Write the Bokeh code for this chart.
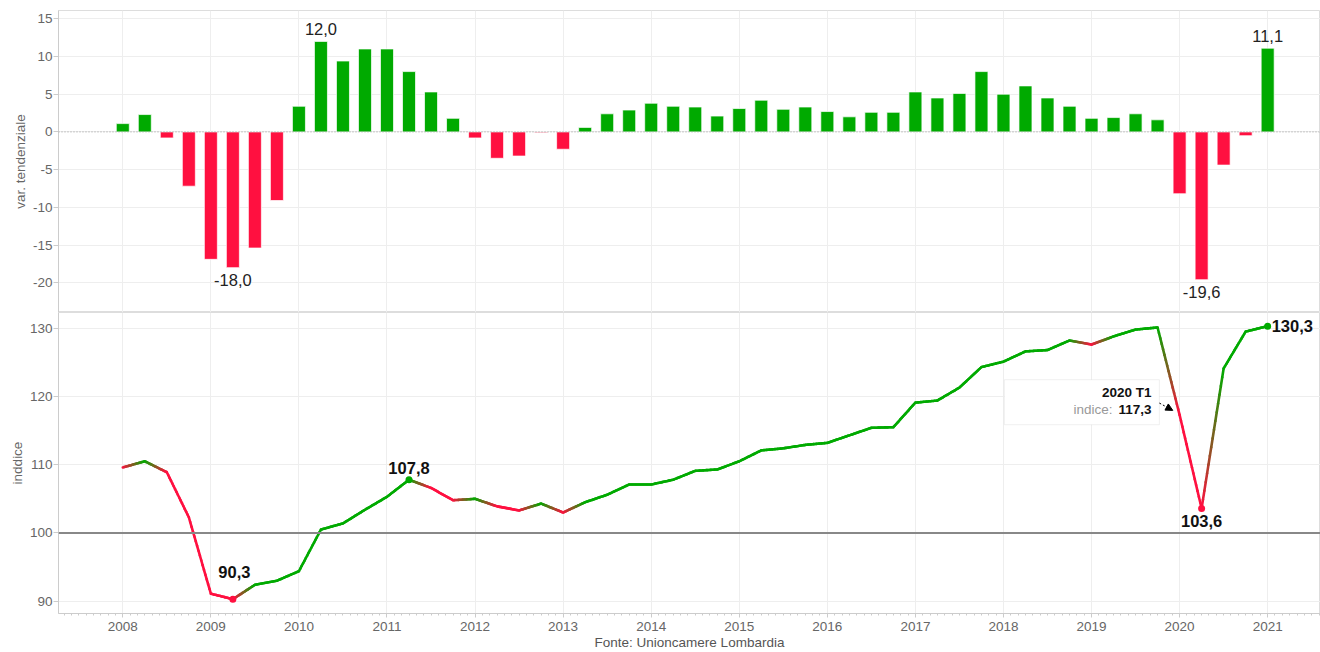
import numpy as np
from bokeh.plotting import figure
from bokeh.layouts import column
from bokeh.models import (ColumnDataSource, FixedTicker, Label, Span, BoxAnnotation,
                          Arrow, NormalHead, Range1d)
from bokeh.embed import file_html
from bokeh.resources import INLINE

# ---------------- data ----------------
years = list(range(2008, 2022))
quarters = [f"{y} T{q}" for y in range(2008, 2021) for q in range(1, 5)] + ["2021 T1"]

var_tend = [1.1, 2.3, -0.8, -7.2,
            -16.9, -18.0, -15.4, -9.1,
            3.4, 12.0, 9.4, 11.0,
            11.0, 8.0, 5.3, 1.8,
            -0.8, -3.5, -3.2, -0.1,
            -2.3, 0.6, 2.4, 2.9,
            3.8, 3.4, 3.3, 2.1,
            3.1, 4.2, 3.0, 3.3,
            2.7, 2.0, 2.6, 2.6,
            5.3, 4.5, 5.1, 8.0,
            5.0, 6.1, 4.5, 3.4,
            1.8, 1.9, 2.4, 1.6,
            -8.2, -19.6, -4.4, -0.5,
            11.1]

indice = [109.6, 110.5, 108.9, 102.3,
          91.1, 90.3, 92.4, 93.0,
          94.4, 100.5, 101.4, 103.4,
          105.3, 107.8, 106.6, 104.8,
          105.0, 103.9, 103.3, 104.3,
          103.0, 104.5, 105.6, 107.1,
          107.1, 107.8, 109.1, 109.3,
          110.5, 112.1, 112.4, 112.9,
          113.2, 114.3, 115.4, 115.5,
          119.1, 119.4, 121.3, 124.3,
          125.1, 126.6, 126.8, 128.2,
          127.6, 128.8, 129.8, 130.1,
          117.3, 103.6, 124.1, 129.5,
          130.3]

bar_label_quarters = ["2009 T2", "2010 T2", "2020 T2", "2021 T1"]
line_label_quarters = ["2009 T2", "2011 T2", "2020 T2", "2021 T1"]
tooltip_quarter = "2020 T1"
source_note = "Fonte: Unioncamere Lombardia"

# ---------------- style / layout ----------------
FONT = "Liberation Sans"
GREEN = (0, 170, 0)
RED = (255, 16, 64)
W = 1320
LEFT = 58
X0, X1 = 2007.27, 2021.60
TOP_H, BOT_H = 312, 340
TOP_Y = (-23.95, 16.1)
BOT_Y = (88.2, 132.3)
FRAME_W = W - LEFT
PX_X = FRAME_W / (X1 - X0)
PX_YB = 301 / (BOT_Y[1] - BOT_Y[0])


def hexc(c):
    return "#%02x%02x%02x" % tuple(int(round(v)) for v in c)


def mix(a, b, t):
    return tuple(a[i] + (b[i] - a[i]) * t for i in range(3))


def fmt(v):
    return f"{v:.1f}".replace(".", ",")


xq = [int(q[:4]) + (int(q[-1]) - 1) / 4 for q in quarters]


def style_y(p, ticks, label):
    ax = p.yaxis[0]
    ax.ticker = FixedTicker(ticks=ticks)
    ax.major_label_overrides = {t: str(t) for t in ticks}
    ax.axis_label = label
    ax.axis_label_text_font = FONT
    ax.axis_label_text_font_size = "13.5px"
    ax.axis_label_text_font_style = "normal"
    ax.axis_label_text_color = "#666666"
    ax.axis_label_standoff = 2
    ax.major_label_text_font = FONT
    ax.major_label_text_font_size = "13.5px"
    ax.major_label_text_color = "#666666"
    ax.major_label_standoff = 1
    ax.axis_line_color = "#cccccc"
    ax.major_tick_line_color = "#cccccc"
    ax.major_tick_out = 5
    ax.major_tick_in = 0
    ax.minor_tick_line_color = None
    p.ygrid.ticker = FixedTicker(ticks=ticks)
    p.ygrid.grid_line_color = "#eeeeee"
    p.xgrid.ticker = FixedTicker(ticks=years)
    p.xgrid.grid_line_color = "#eeeeee"
    p.outline_line_color = "#dddddd"
    p.background_fill_color = "white"
    p.border_fill_color = "white"


# ---------------- top: variazione tendenziale ----------------
top = figure(width=W, height=TOP_H, x_range=Range1d(X0, X1), y_range=Range1d(*TOP_Y),
             output_backend="svg", toolbar_location=None, tools="",
             x_axis_location=None, min_border_left=LEFT, min_border_right=0,
             min_border_top=10, min_border_bottom=0)
style_y(top, [-20, -15, -10, -5, 0, 5, 10, 15], "var. tendenziale")

bar_src = ColumnDataSource(dict(
    x=xq, top=var_tend,
    color=[hexc(GREEN) if v >= 0 else hexc(RED) for v in var_tend]))
top.vbar(x="x", top="top", bottom=0, width=13 / PX_X, fill_color="color",
         line_color="white", line_width=1, line_alpha=0.7, source=bar_src)
top.add_layout(Span(location=0, dimension="width", line_color="#999999",
                    line_dash="1 2", line_width=1))

for q in bar_label_quarters:
    i = quarters.index(q)
    v = var_tend[i]
    top.add_layout(Label(x=xq[i], y=v, text=fmt(v), text_align="center",
                         text_baseline="alphabetic",
                         y_offset=12.5 if v >= 0 else -12,
                         text_font=FONT, text_font_size="16.5px",
                         text_color="#222222"))

# ---------------- bottom: indice ----------------
bot = figure(width=W, height=BOT_H, x_range=top.x_range, y_range=Range1d(*BOT_Y),
             output_backend="svg", toolbar_location=None, tools="",
             min_border_left=LEFT, min_border_right=0,
             min_border_top=0, min_border_bottom=39)
style_y(bot, [90, 100, 110, 120, 130], "inddice")

xa = bot.xaxis[0]
months = [y + m / 12 for y in range(2007, 2022) for m in range(12)]
xa.ticker = FixedTicker(ticks=years, minor_ticks=months)
xa.major_label_overrides = {y: str(y) for y in years}
xa.major_label_text_font = FONT
xa.major_label_text_font_size = "13.5px"
xa.major_label_text_color = "#666666"
xa.major_label_standoff = 4
xa.major_tick_out = 4
xa.major_tick_in = 0
xa.minor_tick_out = 2
xa.minor_tick_in = 0
xa.major_tick_line_color = "#cccccc"
xa.minor_tick_line_color = "#cccccc"
xa.axis_line_color = "#cccccc"
xa.axis_label = source_note
xa.axis_label_text_font = FONT
xa.axis_label_text_font_size = "13.5px"
xa.axis_label_text_font_style = "normal"
xa.axis_label_text_color = "#555555"
xa.axis_label_standoff = 1

bot.add_layout(Span(location=100, dimension="width", line_color="#888888", line_width=2))

# line with gradient colour between points (green = rising, red = falling)
pt_col = [RED] + [GREEN if indice[i] >= indice[i - 1] else RED for i in range(1, len(indice))]
N = 16
x0s, y0s, x1s, y1s, cols = [], [], [], [], []
for i in range(len(indice) - 1):
    for k in range(N):
        t0, t1 = k / N, (k + 1) / N
        x0s.append(xq[i] + (xq[i + 1] - xq[i]) * t0)
        x1s.append(xq[i] + (xq[i + 1] - xq[i]) * t1)
        y0s.append(indice[i] + (indice[i + 1] - indice[i]) * t0)
        y1s.append(indice[i] + (indice[i + 1] - indice[i]) * t1)
        cols.append(hexc(mix(pt_col[i], pt_col[i + 1], (t0 + t1) / 2)))
bot.segment(x0=x0s, y0=y0s, x1=x1s, y1=y1s, line_color=cols, line_width=2.6,
            line_cap="round")

lab_idx = [quarters.index(q) for q in line_label_quarters]
bot.scatter(x=[xq[i] for i in lab_idx], y=[indice[i] for i in lab_idx], size=7,
            color=[hexc(pt_col[i]) for i in lab_idx], line_color=None)

label_place = {  # (align, x_offset, y_offset) in screen px
    "2009 T2": ("center", 1.5, 27.5),
    "2011 T2": ("center", 0, 11.5),
    "2020 T2": ("center", 0, -13),
    "2021 T1": ("left", 4, 0),
}
for q in line_label_quarters:
    i = quarters.index(q)
    al, dx, dy = label_place[q]
    bot.add_layout(Label(x=xq[i], y=indice[i], text=fmt(indice[i]), text_align=al,
                         text_baseline="alphabetic", x_offset=dx, y_offset=dy,
                         text_font=FONT, text_font_size="16.5px",
                         text_font_style="bold", text_color="#111111"))

# tooltip callout
ti = quarters.index(tooltip_quarter)
ax_, ay_ = xq[ti], indice[ti]
bot.add_layout(BoxAnnotation(left=ax_ - 175.2 / PX_X, right=ax_ - 20.2 / PX_X,
                             top=ay_ + 35.2 / PX_YB, bottom=ay_ - 9.8 / PX_YB,
                             fill_color="white", fill_alpha=0.95,
                             line_color="#cccccc", line_width=1))
bot.add_layout(Label(x=ax_, y=ay_, text=tooltip_quarter, text_align="right",
                     text_baseline="alphabetic", x_offset=-28, y_offset=22,
                     text_font=FONT, text_font_size="13.5px", text_font_style="bold",
                     text_color="#111111"))
bot.add_layout(Label(x=ax_, y=ay_, text=fmt(indice[ti]), text_align="right",
                     text_baseline="alphabetic", x_offset=-28, y_offset=5.5,
                     text_font=FONT, text_font_size="13.5px", text_font_style="bold",
                     text_color="#111111"))
bot.add_layout(Label(x=ax_, y=ay_, text="indice:", text_align="right",
                     text_baseline="alphabetic", x_offset=-67, y_offset=5.5,
                     text_font=FONT, text_font_size="13.5px",
                     text_color="#999999"))
bot.add_layout(Arrow(end=NormalHead(size=7, fill_color="black", line_color="black"),
                     x_start=ax_ - 20.2 / PX_X, y_start=ay_ + 11.8 / PX_YB,
                     x_end=ax_ - 6.8 / PX_X, y_end=ay_ + 4.5 / PX_YB,
                     line_color="black", line_width=1, line_dash="2 2"))

layout = column(top, bot, spacing=0)
open("out.html", "w").write(file_html(layout, INLINE))
